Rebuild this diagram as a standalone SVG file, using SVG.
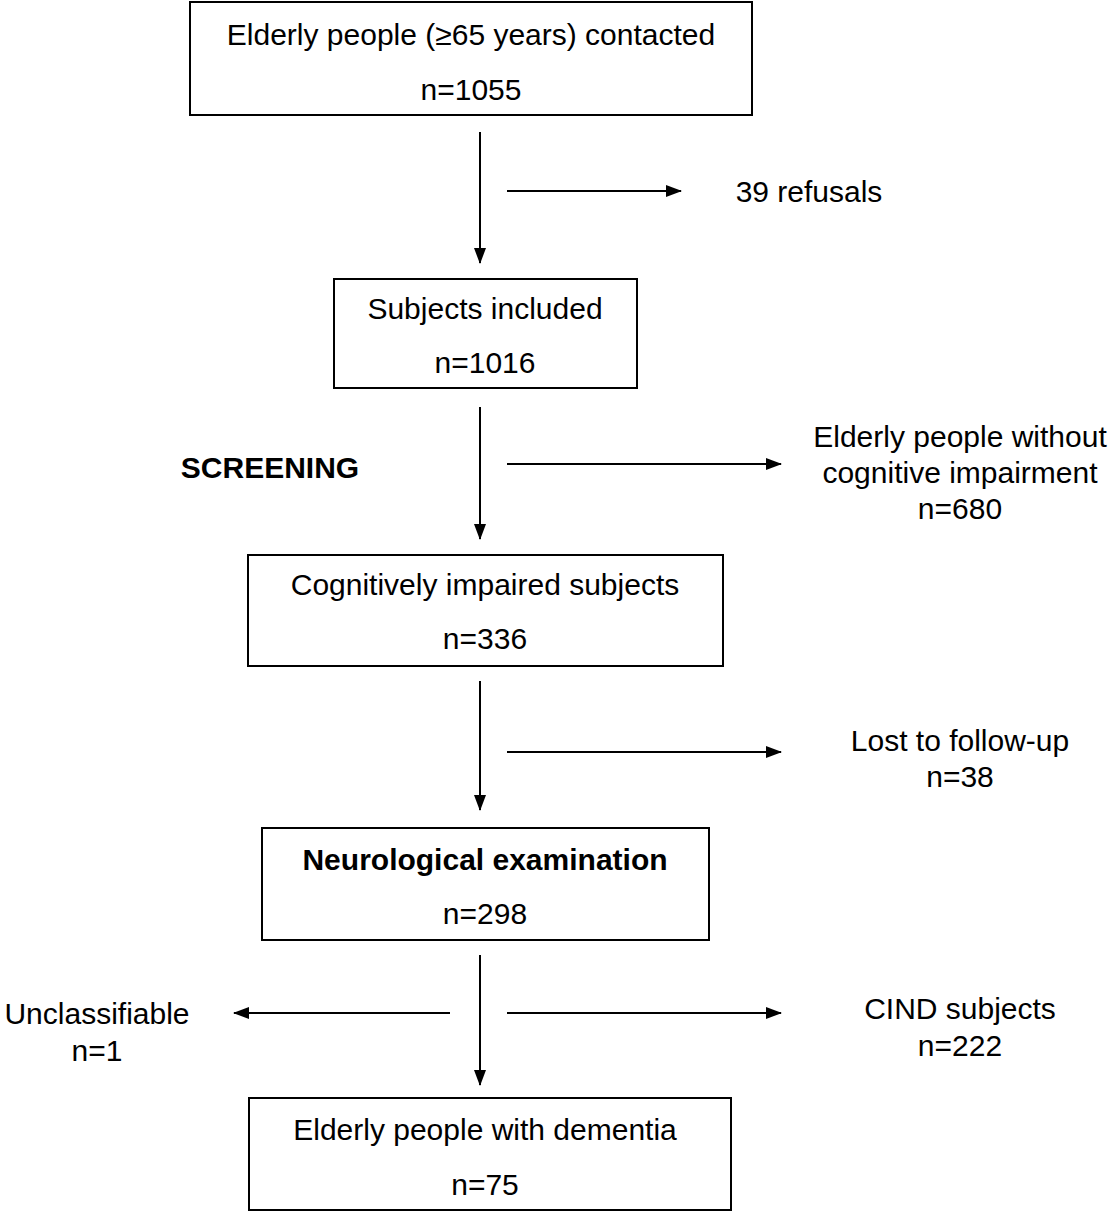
<svg xmlns="http://www.w3.org/2000/svg" width="1110" height="1212" viewBox="0 0 1110 1212">
<style>
.box{fill:#fff;stroke:#000;stroke-width:2}
text{font-family:"Liberation Sans",Arial,sans-serif;font-size:30px;fill:#000;text-anchor:middle}
.b{font-weight:bold}
.c line{stroke:#000;stroke-width:2;marker-end:url(#ah)}
</style>
<defs>
<marker id="ah" markerWidth="16" markerHeight="12" refX="15" refY="6" orient="auto" markerUnits="userSpaceOnUse">
<path d="M0,0 L16,6 L0,12 Z" fill="#000"/>
</marker>
</defs>
<rect width="1110" height="1212" fill="#fff"/>
<g id="n1"><rect class="box" x="190" y="2" width="562" height="113"/><text x="471" y="45">Elderly people (≥65 years) contacted</text><text x="471" y="100">n=1055</text></g>
<g id="n2"><rect class="box" x="334" y="279" width="303" height="109"/><text x="485" y="319">Subjects included</text><text x="485" y="373">n=1016</text></g>
<g id="n3"><rect class="box" x="248" y="555" width="475" height="111"/><text x="485" y="595">Cognitively impaired subjects</text><text x="485" y="649">n=336</text></g>
<g id="n4"><rect class="box" x="262" y="828" width="447" height="112"/><text class="b" x="485" y="870">Neurological examination</text><text x="485" y="924">n=298</text></g>
<g id="n5"><rect class="box" x="249" y="1098" width="482" height="112"/><text x="485" y="1140">Elderly people with dementia</text><text x="485" y="1195">n=75</text></g>
<g id="refusals"><text x="809" y="202">39 refusals</text></g>
<g id="screening"><text class="b" x="270" y="478">SCREENING</text></g>
<g id="nocog"><text x="960" y="447">Elderly people without</text><text x="960" y="483">cognitive impairment</text><text x="960" y="519">n=680</text></g>
<g id="lost"><text x="960" y="751">Lost to follow-up</text><text x="960" y="787">n=38</text></g>
<g id="unclass"><text x="97" y="1024">Unclassifiable</text><text x="97" y="1061">n=1</text></g>
<g id="cind"><text x="960" y="1019">CIND subjects</text><text x="960" y="1056">n=222</text></g>
<g class="c" id="connectors">
<line x1="480" y1="132" x2="480" y2="263"/>
<line x1="480" y1="407" x2="480" y2="539"/>
<line x1="480" y1="681" x2="480" y2="810"/>
<line x1="480" y1="955" x2="480" y2="1085"/>
<line x1="507" y1="191" x2="681" y2="191"/>
<line x1="507" y1="464" x2="781" y2="464"/>
<line x1="507" y1="752" x2="781" y2="752"/>
<line x1="507" y1="1013" x2="781" y2="1013"/>
<line x1="450" y1="1013" x2="234" y2="1013"/>
</g>
</svg>
